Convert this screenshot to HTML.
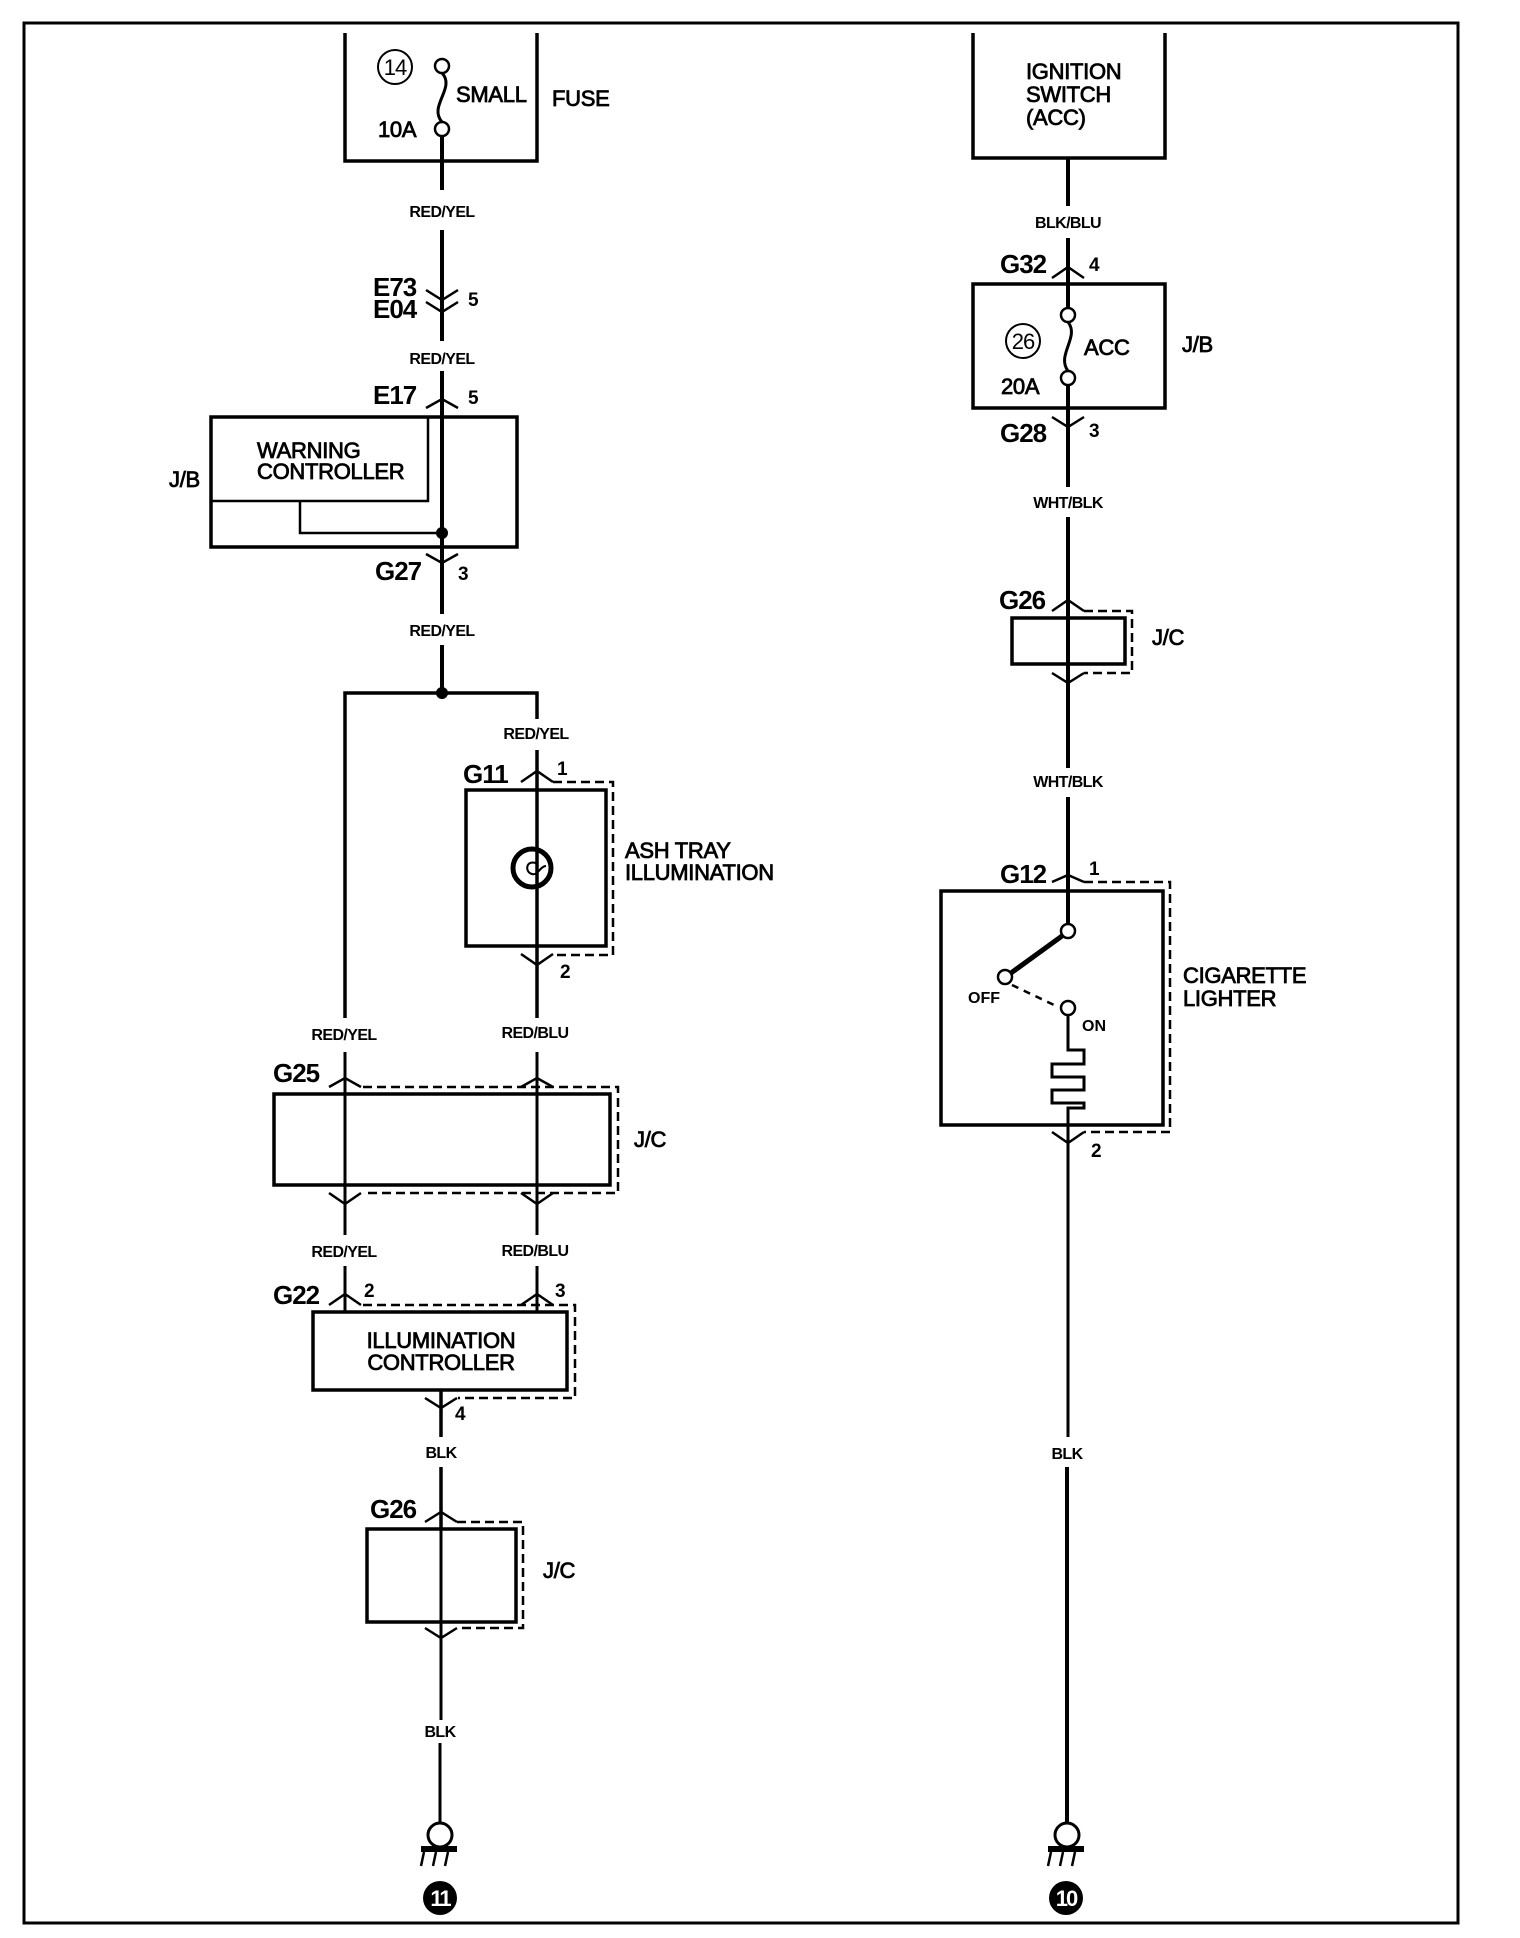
<!DOCTYPE html>
<html><head><meta charset="utf-8"><style>
html,body{margin:0;padding:0;background:#fff;}
svg{display:block;}
text{font-family:"Liberation Sans",Arial,sans-serif;fill:#000;}
.w{font-size:16px;font-weight:bold;text-anchor:middle;letter-spacing:-0.6px;}
.c{font-size:26px;font-weight:bold;letter-spacing:-1px;}
.p{font-size:19px;font-weight:bold;}
.t{font-size:22px;letter-spacing:-0.3px;stroke:#000;stroke-width:0.8px;}
</style></head><body>
<svg width="1520" height="1938" viewBox="0 0 1520 1938" xmlns="http://www.w3.org/2000/svg">
<rect x="0" y="0" width="1520" height="1938" fill="#fff"/>
<rect x="24" y="23" width="1434" height="1900" fill="none" stroke="#000" stroke-width="3"/>

<g fill="none" stroke="#000" stroke-linecap="butt">
<path d="M345 33 V161 H537 V33" stroke-width="3.5"/>
<circle cx="442" cy="66" r="7" stroke-width="2.5"/>
<circle cx="442" cy="129" r="7" stroke-width="2.5"/>
<path d="M442 73 C456 88,428 106,442 122" stroke-width="3"/>
<circle cx="395" cy="67" r="17" stroke-width="2"/>
<path d="M442 136 V190 M442 230 V341 M442 371 V614 M442 645 V693" stroke-width="4"/>
<path d="M426 290 L442 300 L458 290 M426 302 L442 312 L458 302" stroke-width="2.5"/>
<path d="M426 408 L442 399 L458 408" stroke-width="2.5"/>
<rect x="211" y="417" width="306" height="130" stroke-width="3.5"/>
<path d="M211 501 H428 V417" stroke-width="2.5"/>
<path d="M300 501 V533 H442" stroke-width="2.5"/>
<path d="M426 554 L442 563 L458 554" stroke-width="2.5"/>
<path d="M345 1018 V693 H537 V719" stroke-width="3.5"/>
<path d="M537 750 V1018" stroke-width="3.5"/>
<path d="M521 782 L537 771 L553 782" stroke-width="2.5"/>
<path d="M553 782 H613 V955 H553" stroke-width="2.5" stroke-dasharray="9 5"/>
<rect x="466" y="790" width="140" height="156" stroke-width="3.5"/>
<circle cx="532" cy="868" r="19" stroke-width="5"/>
<path d="M538 864 C526 858,524 872,532 874 C538 876,540 866,546 866" stroke-width="2"/>
<path d="M521 954 L537 965 L553 954" stroke-width="2.5"/>
<path d="M345 1052 V1235 M537 1052 V1235" stroke-width="3"/>
<path d="M329 1087 L345 1078 L361 1087 M521 1087 L537 1078 L553 1087" stroke-width="2.5"/>
<path d="M363 1087 H618 V1193 H363" stroke-width="2.5" stroke-dasharray="9 5"/>
<rect x="274" y="1094" width="336" height="91" stroke-width="3.5"/>
<path d="M329 1193 L345 1204 L361 1193 M521 1193 L537 1204 L553 1193" stroke-width="2.5"/>
<path d="M345 1266 V1312 M537 1266 V1312" stroke-width="3"/>
<path d="M329 1305 L345 1294 L361 1305 M521 1305 L537 1294 L553 1305" stroke-width="2.5"/>
<path d="M363 1305 H575 V1398 H458" stroke-width="2.5" stroke-dasharray="9 5"/>
<rect x="313" y="1312" width="254" height="78" stroke-width="3.5"/>
<path d="M425 1398 L441 1408 L457 1398" stroke-width="2.5"/>
<path d="M441 1390 V1437 M441 1467 V1529" stroke-width="3.5"/>
<path d="M425 1522 L441 1512 L457 1522" stroke-width="2.5"/>
<path d="M457 1522 H523 V1628 H457" stroke-width="2.5" stroke-dasharray="9 5"/>
<rect x="367" y="1529" width="149" height="93" stroke-width="3.5"/>
<path d="M441 1529 V1720" stroke-width="3"/>
<path d="M425 1628 L441 1638 L457 1628" stroke-width="2.5"/>
<path d="M440 1743 V1823" stroke-width="3"/>
<circle cx="440" cy="1835" r="12" stroke-width="3"/>
<path d="M421 1849 H457" stroke-width="6"/>
<path d="M424 1852 L421 1866 M436 1852 L433 1866 M448 1852 L445 1866" stroke-width="2.5"/>

<path d="M973 33 V158 H1165 V33" stroke-width="3.5"/>
<path d="M1068 158 V206 M1068 238 V308" stroke-width="4"/>
<path d="M1052 278 L1068 267 L1084 278" stroke-width="2.5"/>
<rect x="973" y="284" width="192" height="124" stroke-width="3.5"/>
<circle cx="1068" cy="315" r="7" stroke-width="2.5"/>
<circle cx="1068" cy="378" r="7" stroke-width="2.5"/>
<path d="M1068 322 C1080 337,1056 355,1068 371" stroke-width="3"/>
<circle cx="1023" cy="341" r="17" stroke-width="2"/>
<path d="M1068 385 V487 M1068 517 V768 M1068 797 V924" stroke-width="4"/>
<path d="M1052 417 L1068 427 L1084 417" stroke-width="2.5"/>
<path d="M1052 611 L1068 600 L1084 611" stroke-width="2.5"/>
<path d="M1084 611 H1132 V673 H1084" stroke-width="2.5" stroke-dasharray="9 5"/>
<rect x="1012" y="618" width="113" height="46" stroke-width="3.5"/>
<path d="M1052 673 L1068 683 L1084 673" stroke-width="2.5"/>
<path d="M1052 882 L1068 875 L1084 882" stroke-width="2.5"/>
<path d="M1084 882 H1170 V1132 H1084" stroke-width="2.5" stroke-dasharray="9 5"/>
<rect x="941" y="891" width="222" height="234" stroke-width="3.5"/>
<circle cx="1068" cy="931" r="7" stroke-width="2.5"/>
<circle cx="1005" cy="977" r="7" stroke-width="2.5"/>
<path d="M1011 973 L1062 936" stroke-width="5"/>
<path d="M1012 985 L1054 1005" stroke-width="2.5" stroke-dasharray="7 6"/>
<circle cx="1068" cy="1008" r="7" stroke-width="2.5"/>
<path d="M1068 1015 V1050 H1084 V1064 H1052 V1077 H1084 V1090 H1052 V1103 H1084 V1108 H1068 V1437" stroke-width="3"/>
<path d="M1052 1132 L1068 1143 L1084 1132" stroke-width="2.5"/>
<path d="M1067 1467 V1823" stroke-width="4"/>
<circle cx="1067" cy="1835" r="12" stroke-width="3"/>
<path d="M1048 1849 H1084" stroke-width="6"/>
<path d="M1051 1852 L1048 1866 M1063 1852 L1060 1866 M1075 1852 L1072 1866" stroke-width="2.5"/>
</g>

<circle cx="442" cy="533" r="6" fill="#000"/>
<circle cx="442" cy="693" r="6" fill="#000"/>
<circle cx="440" cy="1898" r="17" fill="#000"/>
<text x="440" y="1906" style="fill:#fff;font-size:22px;font-weight:bold;text-anchor:middle;letter-spacing:-2px">11</text>
<circle cx="1066" cy="1898" r="17" fill="#000"/>
<text x="1066" y="1906" style="fill:#fff;font-size:22px;font-weight:bold;text-anchor:middle;letter-spacing:-2px">10</text>

<text x="395" y="75" style="font-size:22px;text-anchor:middle;letter-spacing:-1px">14</text>
<text class="t" x="456" y="102">SMALL</text>
<text class="t" x="552" y="106">FUSE</text>
<text class="t" x="378" y="137">10A</text>
<text class="w" x="442" y="217">RED/YEL</text>
<text class="c" x="373" y="296">E73</text>
<text class="c" x="373" y="318">E04</text>
<text class="p" x="468" y="306">5</text>
<text class="w" x="442" y="364">RED/YEL</text>
<text class="c" x="373" y="404">E17</text>
<text class="p" x="468" y="404">5</text>
<text class="t" x="257" y="458">WARNING</text>
<text class="t" x="257" y="479">CONTROLLER</text>
<text class="t" x="169" y="487">J/B</text>
<text class="c" x="375" y="580">G27</text>
<text class="p" x="458" y="580">3</text>
<text class="w" x="442" y="636">RED/YEL</text>
<text class="w" x="536" y="739">RED/YEL</text>
<text class="c" x="463" y="783">G11</text>
<text class="p" x="557" y="775">1</text>
<text class="t" x="625" y="858">ASH TRAY</text>
<text class="t" x="625" y="880">ILLUMINATION</text>
<text class="p" x="560" y="978">2</text>
<text class="w" x="344" y="1040">RED/YEL</text>
<text class="w" x="535" y="1038">RED/BLU</text>
<text class="c" x="273" y="1082">G25</text>
<text class="t" x="634" y="1147">J/C</text>
<text class="w" x="344" y="1257">RED/YEL</text>
<text class="w" x="535" y="1256">RED/BLU</text>
<text class="c" x="273" y="1304">G22</text>
<text class="p" x="364" y="1297">2</text>
<text class="p" x="555" y="1297">3</text>
<text class="t" x="441" y="1348" text-anchor="middle">ILLUMINATION</text>
<text class="t" x="441" y="1370" text-anchor="middle">CONTROLLER</text>
<text class="p" x="455" y="1420">4</text>
<text class="w" x="441" y="1458">BLK</text>
<text class="c" x="370" y="1518">G26</text>
<text class="t" x="543" y="1578">J/C</text>
<text class="w" x="440" y="1737">BLK</text>

<text class="t" x="1026" y="79">IGNITION</text>
<text class="t" x="1026" y="102">SWITCH</text>
<text class="t" x="1026" y="125">(ACC)</text>
<text class="w" x="1068" y="228">BLK/BLU</text>
<text class="c" x="1000" y="273">G32</text>
<text class="p" x="1089" y="271">4</text>
<text x="1023" y="349" style="font-size:22px;text-anchor:middle;letter-spacing:-1px">26</text>
<text class="t" x="1084" y="355">ACC</text>
<text class="t" x="1001" y="394">20A</text>
<text class="t" x="1182" y="352">J/B</text>
<text class="c" x="1000" y="442">G28</text>
<text class="p" x="1089" y="437">3</text>
<text class="w" x="1068" y="508">WHT/BLK</text>
<text class="c" x="999" y="609">G26</text>
<text class="t" x="1152" y="645">J/C</text>
<text class="w" x="1068" y="787">WHT/BLK</text>
<text class="c" x="1000" y="883">G12</text>
<text class="p" x="1089" y="875">1</text>
<text x="968" y="1003" style="font-size:16px;font-weight:bold">OFF</text>
<text x="1082" y="1031" style="font-size:16px;font-weight:bold">ON</text>
<text class="t" x="1183" y="983">CIGARETTE</text>
<text class="t" x="1183" y="1006">LIGHTER</text>
<text class="p" x="1091" y="1157">2</text>
<text class="w" x="1067" y="1459">BLK</text>
</svg>
</body></html>
